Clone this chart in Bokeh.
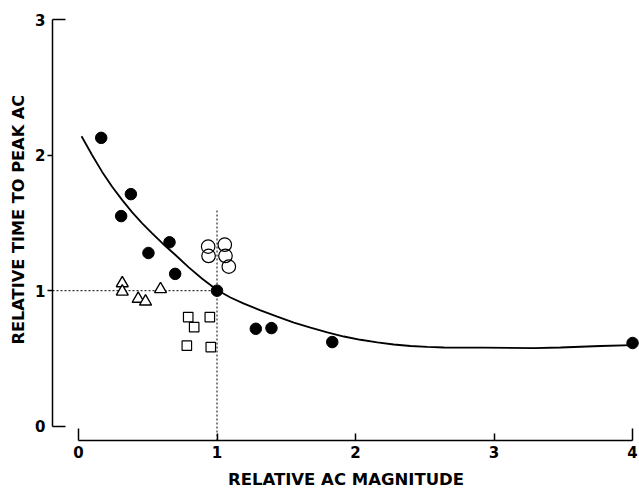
from bokeh.plotting import figure
from bokeh.models import Range1d, FixedTicker, LinearAxis, Title
from bokeh.embed import file_html
from bokeh.resources import INLINE

# ---- data ----
filled_x = [0.164, 0.378, 0.308, 0.505, 0.657, 0.698, 1.0, 1.280, 1.393, 1.832, 4.0]
filled_y = [2.127, 1.712, 1.550, 1.278, 1.357, 1.124, 1.0, 0.719, 0.724, 0.621, 0.614]

open_x = [0.936, 0.939, 1.056, 1.061, 1.085]
open_y = [1.325, 1.256, 1.339, 1.256, 1.177]

tri_x = [0.316, 0.316, 0.431, 0.484, 0.592]
tri_y = [1.055, 0.993, 0.940, 0.920, 1.011]

sq_x = [0.792, 0.835, 0.948, 0.782, 0.955]
sq_y = [0.805, 0.731, 0.805, 0.594, 0.584]

curve_x = [0.022, 0.099, 0.171, 0.243, 0.316, 0.388, 0.460, 0.532, 0.605, 0.700,
           0.796, 0.893, 1.0, 1.097, 1.194, 1.314, 1.435, 1.555, 1.675, 1.796,
           1.916, 2.036, 2.157, 2.276, 2.397, 2.518, 2.638, 2.926, 3.287, 3.48,
           3.769, 4.0]
curve_y = [2.139, 1.999, 1.876, 1.766, 1.668, 1.578, 1.497, 1.423, 1.350, 1.263,
           1.172, 1.088, 1.005, 0.950, 0.905, 0.855, 0.809, 0.765, 0.728, 0.692,
           0.662, 0.638, 0.618, 0.603, 0.592, 0.585, 0.581, 0.580, 0.577, 0.581,
           0.592, 0.598]

ref_x = 1.0
ref_y = 1.0
ref_top = 1.6

x_ticks = [0, 1, 2, 3, 4]
x_end_ticks = [0, 4]
x_mid_ticks = [1, 2, 3]
y_ticks = [0, 1, 2, 3]
y_end_ticks = [0, 3]
y_mid_ticks = [1, 2]

x_title = "RELATIVE AC MAGNITUDE"
y_title = "RELATIVE TIME TO PEAK AC"

FONT = "DejaVu Sans"

p = figure(width=639, height=491, output_backend="svg", toolbar_location=None,
           x_range=Range1d(-0.1877, 4.05), y_range=Range1d(-0.105, 3.0),
           min_border_left=52, min_border_right=0, min_border_top=19, min_border_bottom=50)
p.outline_line_color = None
p.grid.visible = False
p.background_fill_color = "white"
p.border_fill_color = "white"

# reference dotted lines
p.segment(x0=[p.x_range.start, ref_x], y0=[ref_y, p.y_range.start],
          x1=[ref_x, ref_x], y1=[ref_y, ref_top],
          line_color="black", line_width=1, line_dash="2 2")

# fitted curve
p.line(curve_x, curve_y, line_color="black", line_width=1.8)

# markers
p.scatter(sq_x, sq_y, marker="square", size=9.5, fill_color="white",
          line_color="black", line_width=1.2)
p.scatter(tri_x, tri_y, marker="triangle", size=12, fill_color="white",
          line_color="black", line_width=1.4)
p.scatter(open_x, open_y, marker="circle", size=13.5, fill_color="white",
          fill_alpha=0, line_color="black", line_width=1.2)
p.scatter(filled_x, filled_y, marker="circle", size=11.5, fill_color="black",
          line_color="black")


def hide_labels(ax, ticks):
    ax.major_label_overrides = {t: "" for t in ticks}
    ax.major_label_text_font_size = "0px"
    ax.major_label_standoff = 0


# ---- x axes: line + long end ticks, short middle ticks, labels ----
xa = p.xaxis[0]
xa.bounds = (0, 4)
xa.ticker = FixedTicker(ticks=x_end_ticks)
xa.minor_tick_line_color = None
xa.major_tick_in = 12
xa.major_tick_out = 0
xa.axis_line_width = 1.5
xa.major_tick_line_width = 1.5
hide_labels(xa, x_end_ticks)

xm = LinearAxis(ticker=FixedTicker(ticks=x_mid_ticks), bounds=(0, 4),
                axis_line_color=None, major_tick_in=7, major_tick_out=0,
                major_tick_line_width=1.5, minor_tick_line_color=None)
hide_labels(xm, x_mid_ticks)
p.add_layout(xm, "below")

xl = LinearAxis(ticker=FixedTicker(ticks=x_ticks), bounds=(0, 4),
                axis_line_color=None, major_tick_line_color=None,
                major_tick_in=0, major_tick_out=0, minor_tick_line_color=None,
                major_label_standoff=5,
                major_label_text_font=FONT, major_label_text_font_style="bold",
                major_label_text_font_size="15px", major_label_text_color="black",
                axis_label=x_title, axis_label_text_font=FONT,
                axis_label_text_font_style="bold", axis_label_text_font_size="16.5px",
                axis_label_text_color="black", axis_label_standoff=9)
p.add_layout(xl, "below")

# ---- y axes: line + inward end ticks, outward middle ticks, labels ----
ya = p.yaxis[0]
ya.bounds = (0, 3)
ya.ticker = FixedTicker(ticks=y_end_ticks)
ya.minor_tick_line_color = None
ya.major_tick_in = 13
ya.major_tick_out = 0
ya.axis_line_width = 1.5
ya.major_tick_line_width = 1.5
hide_labels(ya, y_end_ticks)

ym = LinearAxis(ticker=FixedTicker(ticks=y_mid_ticks), bounds=(0, 3),
                axis_line_color=None, major_tick_in=0, major_tick_out=5,
                major_tick_line_width=1.5, minor_tick_line_color=None)
hide_labels(ym, y_mid_ticks)
p.add_layout(ym, "left")

yl = LinearAxis(ticker=FixedTicker(ticks=y_ticks), bounds=(0, 3),
                axis_line_color=None, major_tick_line_color=None,
                major_tick_in=0, major_tick_out=0, minor_tick_line_color=None,
                major_label_standoff=2,
                major_label_text_font=FONT, major_label_text_font_style="bold",
                major_label_text_font_size="15px", major_label_text_color="black")
p.add_layout(yl, "left")

# y-axis title, placed so that it starts where the reference's does
yt = Title(text=y_title, align="left", offset=96, vertical_align="bottom",
           standoff=10, text_font=FONT, text_font_style="bold",
           text_font_size="16.2px", text_color="black")
p.add_layout(yt, "left")

open("out.html", "w").write(file_html(p, INLINE))
